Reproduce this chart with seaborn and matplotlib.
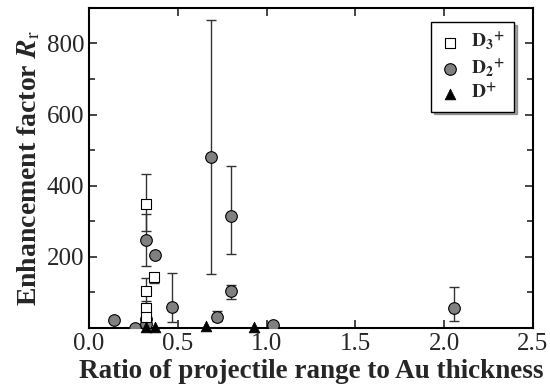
import matplotlib
matplotlib.use("Agg")
import matplotlib.pyplot as plt
import seaborn as sns
import numpy as np
import pandas as pd

# Data
d3_x = [0.321, 0.321, 0.321, 0.321, 0.368]
d3_y = [350, 104, 55, 30, 143]
d3_lo = [78, 40, 20, 10, 16]
d3_hi = [82, 38, 20, 10, 5]

d2_x = [0.143, 0.261, 0.321, 0.321, 0.321, 0.372, 0.469, 0.687, 0.723, 0.801, 0.801, 1.034, 2.053]
d2_y = [24, 1, 248, 25, 10, 205, 58, 480, 32, 316, 104, 8, 55]
d2_lo = [0, 0, 75, 0, 0, 0, 40, 329, 12, 108, 22, 0, 35]
d2_hi = [0, 0, 72, 0, 0, 0, 96, 385, 16, 140, 17, 0, 60]

d1_x = [0.321, 0.372, 0.657, 0.927]
d1_y = [3, 3, 5, 3]

x_ticks = [0.0, 0.5, 1.0, 1.5, 2.0, 2.5]
y_ticks = [200, 400, 600, 800]

sns.set_style("ticks")
plt.rcParams['font.family'] = ['Liberation Serif', 'DejaVu Serif']
plt.rcParams['mathtext.fontset'] = 'stix'

fig = plt.figure(figsize=(5.5, 3.91), dpi=100)
ax = fig.add_axes([0.162, 0.161, 0.807, 0.819])

df3 = pd.DataFrame({'x': d3_x, 'y': d3_y})
df2 = pd.DataFrame({'x': d2_x, 'y': d2_y})
df1 = pd.DataFrame({'x': d1_x, 'y': d1_y})

# error bars
ax.errorbar(d2_x, d2_y, yerr=[d2_lo, d2_hi], fmt='none', ecolor='#333333',
            elinewidth=1.0, capsize=3.5, capthick=1.0, zorder=1)
ax.errorbar(d3_x, d3_y, yerr=[d3_lo, d3_hi], fmt='none', ecolor='#333333',
            elinewidth=1.0, capsize=3.5, capthick=1.0, zorder=1)

sns.scatterplot(data=df2, x='x', y='y', ax=ax, marker='o', s=70,
                color='#808080', edgecolor='black', linewidth=0.8, zorder=3,
                label=r'$\mathbf{D_2{}^{+}}$')
sns.scatterplot(data=df3, x='x', y='y', ax=ax, marker='s', s=60,
                color='white', edgecolor='black', linewidth=0.8, zorder=4,
                label=r'$\mathbf{D_3{}^{+}}$')
sns.scatterplot(data=df1, x='x', y='y', ax=ax, marker='^', s=60,
                color='black', edgecolor='black', linewidth=0.5, zorder=5,
                label=r'$\mathbf{D^{+}}$', clip_on=False)

ax.set_xlim(0, 2.5)
ax.set_ylim(0, 900)
ax.set_xticks(x_ticks)
ax.set_xticklabels([f"{v:.1f}" for v in x_ticks])
ax.set_yticks(y_ticks)
ax.set_yticklabels([str(v) for v in y_ticks])
ax.set_yticks(np.arange(100, 900, 100), minor=True)
ax.tick_params(axis='both', which='both', direction='in', top=True, right=True,
               labelsize=18, width=1.2)
ax.tick_params(axis='both', which='major', length=6)
ax.tick_params(axis='y', which='minor', length=4)
for s in ax.spines.values():
    s.set_linewidth(1.5)
    s.set_color('black')

ax.set_xlabel('Ratio of projectile range to Au thickness', fontsize=19.5,
              fontweight='bold', labelpad=3)
ax.set_ylabel(r'Enhancement factor $\mathbfit{R}_{\mathrm{r}}$', fontsize=20,
              fontweight='bold', labelpad=3)

handles, labels = ax.get_legend_handles_labels()
order = [1, 0, 2]
leg = ax.legend([handles[i] for i in order], [labels[i] for i in order],
                loc='upper right', bbox_to_anchor=(0.957, 0.956), borderaxespad=0,
                fontsize=14, frameon=True, fancybox=False, shadow=True,
                edgecolor='black', framealpha=1, handletextpad=0.6,
                borderpad=0.45, labelspacing=0.25, handlelength=1.0)
leg.get_frame().set_linewidth(1.0)

fig.savefig('out.png', dpi=100)
